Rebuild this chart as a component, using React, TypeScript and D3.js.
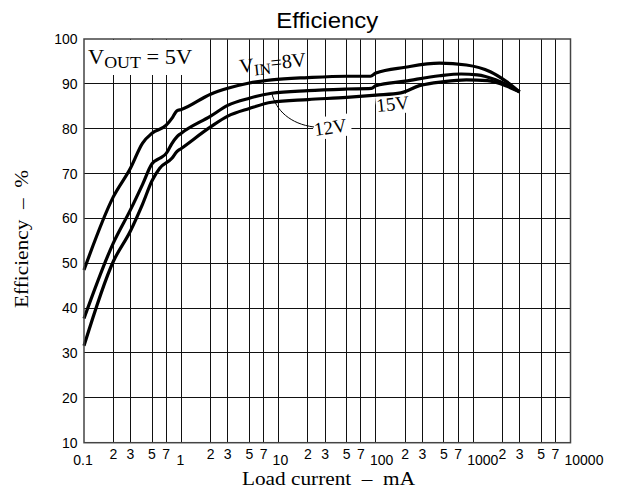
import React, { useEffect, useRef } from "react";
import * as d3 from "d3";

// load current in mA, efficiency in %
const current8V = [0.1, 0.2, 0.3, 0.4, 0.5, 0.7, 0.8, 0.9, 1, 2, 3, 5, 8.5, 20, 50, 88, 100, 200, 450, 850, 1500, 2200, 3000];
const efficiency8V = [48.5, 64.8, 71.2, 76.8, 79, 80.8, 82.3, 84, 84.3, 87.7, 89, 90.2, 90.9, 91.4, 91.7, 91.7, 92.4, 93.7, 94.6, 94.2, 92.7, 90.5, 88.2];

const current12V = [0.1, 0.2, 0.3, 0.4, 0.5, 0.6, 0.7, 0.8, 0.9, 1, 2, 3, 5, 8.5, 20, 50, 90, 100, 200, 450, 750, 1100, 1700, 3000];
const efficiency12V = [37.7, 54.5, 61.9, 67.6, 72.2, 73.4, 74.5, 76.7, 78.2, 79, 82.8, 85.2, 86.8, 87.9, 88.5, 88.85, 89, 89.6, 90.6, 91.8, 92.2, 92, 90.9, 88.2];

const current15V = [0.1, 0.2, 0.3, 0.4, 0.5, 0.6, 0.8, 0.9, 1, 2, 3, 5, 8.5, 20, 50, 100, 180, 280, 500, 850, 1400, 2200, 3000];
const efficiency15V = [31.6, 50.4, 57.2, 63.2, 68.4, 71.2, 73.4, 74.9, 75.6, 80.4, 82.8, 84.5, 85.9, 86.5, 87, 87.5, 88, 89.6, 90.5, 90.9, 90.7, 89.5, 88.2];

const yTicks = [10, 20, 30, 40, 50, 60, 70, 80, 90, 100];
const decades = [0.1, 1, 10, 100, 1000, 10000];
const decadeLabels = ["0.1", "1", "10", "100", "1000", "10000"];
const minorSteps = [2, 3, 5, 7];

const SANS = "'Liberation Sans', Arial, sans-serif";
const SERIF = "'Liberation Serif', 'Times New Roman', serif";

const EfficiencyChart: React.FC = () => {
  const ref = useRef<SVGSVGElement>(null);

  useEffect(() => {
    const svg = d3.select(ref.current);
    svg.selectAll("*").remove();

    const left = 84, right = 570.5, top = 39, bottom = 442.7;
    const x = d3.scaleLog().domain([0.1, 10000]).range([left, right]);
    const y = d3.scaleLinear().domain([10, 100]).range([bottom, top]);

    // grid
    const minors: number[] = [];
    decades.slice(0, -1).forEach((d) => minorSteps.forEach((m) => minors.push(d * m)));
    const vLines = minors.concat(decades.slice(1, -1));

    const grid = svg.append("g").attr("stroke", "#111").attr("stroke-width", 1).attr("shape-rendering", "crispEdges");
    grid.selectAll(".v")
      .data(vLines)
      .enter()
      .append("line")
      .attr("x1", (d) => x(d)).attr("x2", (d) => x(d))
      .attr("y1", top).attr("y2", bottom);
    grid.selectAll(".h")
      .data(yTicks.slice(1, -1))
      .enter()
      .append("line")
      .attr("x1", left).attr("x2", right)
      .attr("y1", (d) => y(d)).attr("y2", (d) => y(d));

    // white boxes behind labels
    svg.append("rect").attr("x", left + 1).attr("y", top + 1).attr("width", 112).attr("height", 35).attr("fill", "#fff");
    svg.append("rect").attr("x", 313).attr("y", 116).attr("width", 38).attr("height", 22).attr("fill", "#fff")
      .attr("transform", "rotate(-8,331,127)");
    svg.append("rect").attr("x", 376).attr("y", 95).attr("width", 34).attr("height", 19).attr("fill", "#fff")
      .attr("transform", "rotate(-6,393,105)");

    // curves
    const line = d3.line<[number, number]>()
      .x((d) => x(d[0]))
      .y((d) => y(d[1]))
      .curve(d3.curveMonotoneX);

    const series: [number[], number[]][] = [
      [current8V, efficiency8V],
      [current12V, efficiency12V],
      [current15V, efficiency15V],
    ];
    svg.selectAll(".curve")
      .data(series)
      .enter()
      .append("path")
      .attr("d", (s) => line(s[0].map((c, i) => [c, s[1][i]] as [number, number])) || "")
      .attr("fill", "none")
      .attr("stroke", "#000")
      .attr("stroke-width", 3.2)
      .attr("stroke-linejoin", "round");

    // frame
    svg.append("rect")
      .attr("x", left).attr("y", top)
      .attr("width", right - left).attr("height", bottom - top)
      .attr("fill", "none").attr("stroke", "#444").attr("stroke-width", 1.5);

    // y tick labels
    svg.selectAll(".ytick")
      .data(yTicks)
      .enter()
      .append("text")
      .attr("x", left - 6.5)
      .attr("y", (d) => y(d) + 5)
      .attr("text-anchor", "end")
      .attr("font-family", SANS)
      .attr("font-size", 14)
      .text((d) => d);

    // x tick labels
    svg.selectAll(".xminor")
      .data(minors)
      .enter()
      .append("text")
      .attr("x", (d) => x(d))
      .attr("y", 459)
      .attr("text-anchor", "middle")
      .attr("font-family", SANS)
      .attr("font-size", 14)
      .text((d) => String(Math.round(d / Math.pow(10, Math.floor(Math.log10(d) + 1e-9)))));
    svg.selectAll(".xdecade")
      .data(decades)
      .enter()
      .append("text")
      .attr("x", (d, i) => (i < 2 ? x(d) - 1 : x(d) - 6))
      .attr("y", 465)
      .attr("text-anchor", (d, i) => (i < 2 ? "middle" : "start"))
      .attr("font-family", SANS)
      .attr("font-size", 14)
      .text((d, i) => decadeLabels[i]);

    // title and axis titles
    svg.append("text")
      .attr("x", (left + right) / 2).attr("y", 28)
      .attr("text-anchor", "middle")
      .attr("font-family", SANS).attr("font-size", 22)
      .attr("textLength", 102).attr("lengthAdjust", "spacingAndGlyphs")
      .text("Efficiency");
    svg.append("text")
      .attr("x", 242).attr("y", 485)
      .attr("font-family", SERIF).attr("font-size", 19)
      .attr("textLength", 173).attr("lengthAdjust", "spacingAndGlyphs")
      .style("white-space", "pre")
      .text("Load current  \u2013  mA");
    svg.append("text")
      .attr("transform", "translate(28,239) rotate(-90)")
      .attr("text-anchor", "middle")
      .attr("font-family", SERIF).attr("font-size", 19)
      .attr("textLength", 138).attr("lengthAdjust", "spacingAndGlyphs")
      .style("white-space", "pre")
      .text("Efficiency  \u2013  %");

    // annotations
    const vout = svg.append("text")
      .attr("transform", "translate(88,64) scale(1.12,1)")
      .attr("font-family", SERIF).attr("font-size", 20)
      .style("white-space", "pre");
    vout.append("tspan").text("V");
    vout.append("tspan").attr("font-size", 16).attr("dy", 4).text("OUT");
    vout.append("tspan").attr("dy", -4).text(" = 5V");

    const vin = svg.append("text")
      .attr("transform", "translate(240,73) rotate(-6)")
      .attr("font-family", SERIF).attr("font-size", 20);
    vin.append("tspan").text("V");
    vin.append("tspan").attr("font-size", 16).attr("dy", 4).text("IN");
    vin.append("tspan").attr("dy", -4).text("=8V");

    svg.append("text")
      .attr("transform", "translate(377,112) rotate(-6)")
      .attr("font-family", SERIF).attr("font-size", 19)
      .text("15V");
    svg.append("text")
      .attr("transform", "translate(315,136) rotate(-8)")
      .attr("font-family", SERIF).attr("font-size", 19)
      .text("12V");

    svg.append("path")
      .attr("d", "M272,94 C276,110 290,124 314,127")
      .attr("fill", "none").attr("stroke", "#000").attr("stroke-width", 1);
  }, []);

  return (
    <svg
      ref={ref}
      width={619}
      height={496}
      style={{ position: "absolute", left: 0, top: 0, background: "#fff" }}
    />
  );
};

export default EfficiencyChart;
